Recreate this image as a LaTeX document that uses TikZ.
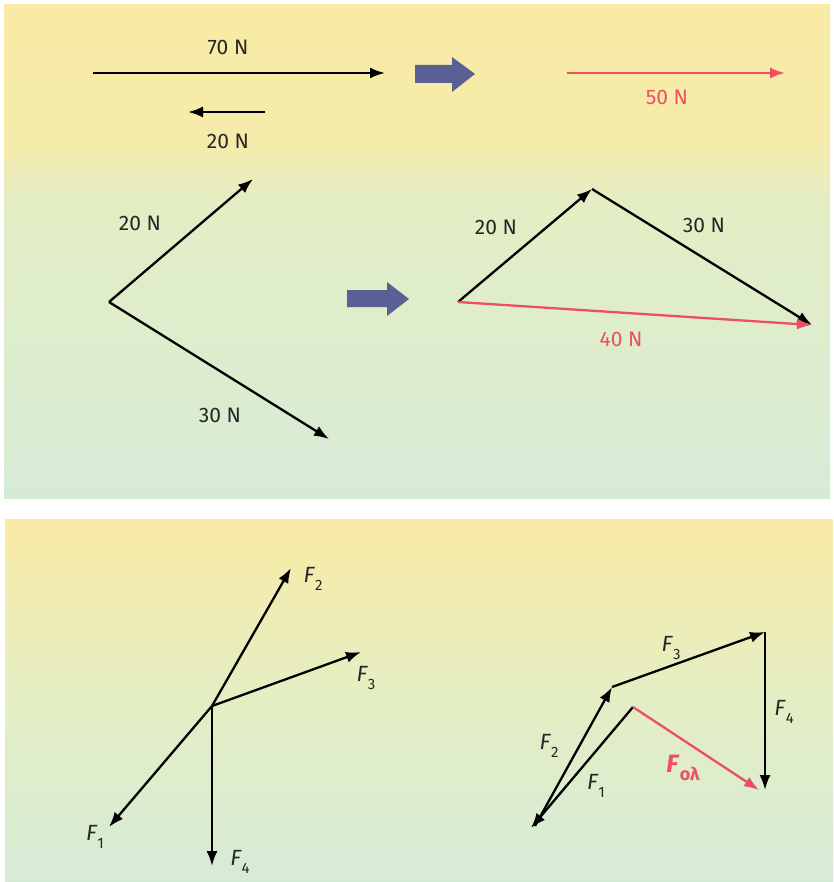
\documentclass[tikz,border=0pt]{standalone}
\usepackage{fontspec}
\setmainfont{Fira Sans}
\usetikzlibrary{arrows.meta}
\definecolor{bgyel}{RGB}{249,235,165}
\definecolor{bgmid}{RGB}{228,238,196}
\definecolor{bggrn}{RGB}{214,235,214}
\definecolor{resred}{RGB}{238,78,98}
\definecolor{bigblue}{RGB}{88,96,150}
\newcommand\Fsub[1]{\textit{F}\raisebox{-0.4em}{\fontsize{15}{16}\selectfont #1}}
\tikzset{
  vec/.style={draw=black, line width=2.3pt, -{Latex[length=15pt,width=11pt]}},
  resvec/.style={vec, draw=resred},
  lbl/.style={font=\fontsize{21}{24}\selectfont, text=black!85, inner sep=0pt},
  rlbl/.style={lbl, text=resred},
  flbl/.style={font=\fontsize{22}{24}\selectfont, text=black!85, inner sep=0pt},
  fatarrow/.style={fill=bigblue, draw=none}
}
\begin{document}
\begin{tikzpicture}[x=1pt,y=-1pt]
\useasboundingbox (0,0) rectangle (833,882);
\fill[white] (0,0) rectangle (833,882);
% panel backgrounds
\shade[top color=bgyel, bottom color=bgyel!85!bgmid] (4,5) rectangle (830,140);
\shade[top color=bgyel!85!bgmid, bottom color=bgmid] (4,140) rectangle (830,200);
\shade[top color=bgmid, bottom color=bggrn] (4,200) rectangle (830,498);
\shade[top color=bgyel, bottom color=bgmid] (5,519) rectangle (833,700);
\shade[top color=bgmid, bottom color=bggrn] (5,700) rectangle (833,882);

% ---- row 1 ----
\coordinate (a70s) at (93,73);  \coordinate (a70e) at (385,73);
\coordinate (a20s) at (265,112); \coordinate (a20e) at (188,112);
\coordinate (a50s) at (567,73); \coordinate (a50e) at (785,73);
\draw[vec] (a70s) -- (a70e);
\draw[vec] (a20s) -- (a20e);
\draw[resvec] (a50s) -- (a50e);
\node[lbl] (l70) at (228,47) {70 N};
\node[lbl] (l20a) at (228,141) {20 N};
\node[rlbl] (l50) at (667,97) {50 N};
\fill[fatarrow] (415,65) -- (452,65) -- (452,57) -- (475,74) -- (452,92) -- (452,83) -- (415,83) -- cycle;

% ---- row 2 left ----
\coordinate (o) at (109,302);
\coordinate (t20) at (253,179);
\coordinate (t30) at (329,439);
\draw[vec] (o) -- (t20);
\draw[vec] (o) -- (t30);
\node[lbl] (l20b) at (140,223) {20 N};
\node[lbl] (l30b) at (220,415) {30 N};
\fill[fatarrow] (347,290) -- (387,290) -- (387,282) -- (409,299) -- (387,316) -- (387,307) -- (347,307) -- cycle;

% ---- row 2 right ----
\coordinate (p0) at (458,302);
\coordinate (p1) at (592,189);
\coordinate (p2) at (812,325);
\draw[vec] (p0) -- (p1);
\draw[vec] (p1) -- (p2);
\draw[resvec] (p0) -- (p2);
\node[lbl] (l20c) at (496,227) {20 N};
\node[lbl] (l30c) at (704,225) {30 N};
\node[rlbl] (l40) at (621,339) {40 N};

% ---- bottom left ----
\coordinate (c) at (212,706);
\coordinate (f1) at (109,827);
\coordinate (f2) at (291,568);
\coordinate (f3) at (361,652);
\coordinate (f4) at (212,866);
\draw[vec] (c) -- (f1);
\draw[vec] (c) -- (f2);
\draw[vec] (c) -- (f3);
\draw[vec] (c) -- (f4);
\node[flbl] (lf1) at (95,837) {\Fsub{1}};
\node[flbl] (lf2) at (313,579) {\Fsub{2}};
\node[flbl] (lf3) at (366,678) {\Fsub{3}};
\node[flbl] (lf4) at (240,862) {\Fsub{4}};

% ---- bottom right ----
\coordinate (q0) at (633,707);
\coordinate (q1) at (531,828);
\coordinate (q1b) at (535,826);
\coordinate (q2) at (612,687);
\coordinate (q3) at (765,632);
\coordinate (q4) at (765,790);
\draw[vec] (q0) -- (q1);
\draw[vec] (q1b) -- (q2);
\draw[vec] (q2) -- (q3);
\draw[vec] (q3) -- (q4);
\draw[resvec] (q0) -- (759,790);
\node[flbl] (lg1) at (596,786) {\Fsub{1}};
\node[flbl] (lg2) at (549,746) {\Fsub{2}};
\node[flbl] (lg3) at (671,648) {\Fsub{3}};
\node[flbl] (lg4) at (784,712) {\Fsub{4}};
\node[font=\fontsize{25}{28}\selectfont\bfseries, text=resred, inner sep=0pt] (lres) at (683,768)
  {\textit{F}\raisebox{-0.3em}{\fontsize{18}{20}\selectfont ολ}};
\end{tikzpicture}
\end{document}
